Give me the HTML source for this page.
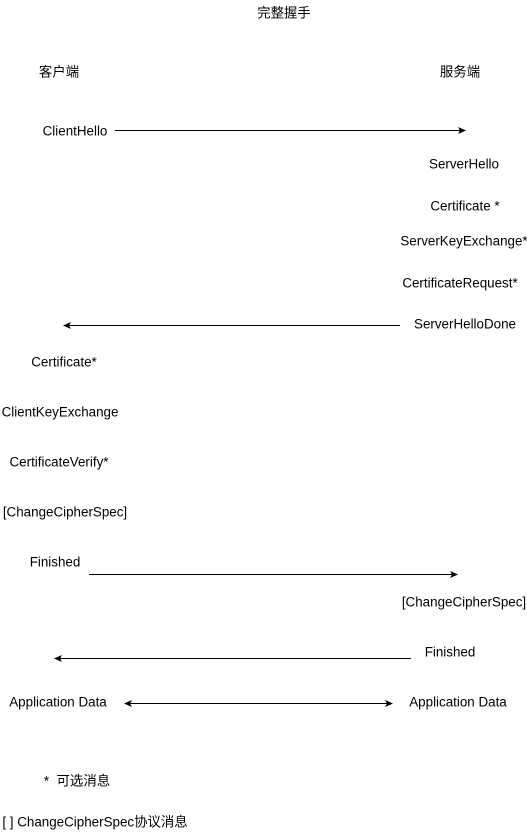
<!DOCTYPE html>
<html><head><meta charset="utf-8"><style>
body{margin:0;width:527px;height:840px;background:#fff;position:relative;overflow:hidden;font-family:"Liberation Sans","Noto Sans CJK SC",sans-serif;font-size:13.4px;color:#000}
.t{position:absolute;white-space:nowrap;transform:translate(-50%,-50%);line-height:1}
svg{position:absolute;left:0;top:0}
</style></head><body>
<svg width="527" height="840">
<defs><marker id="a" markerWidth="8" markerHeight="8" refX="7" refY="4" orient="auto" markerUnits="userSpaceOnUse"><path d="M0,0.5 L8,4 L0,7.5 L2,4 Z" fill="#000"/></marker>
<marker id="b" markerWidth="8" markerHeight="8" refX="1" refY="4" orient="auto" markerUnits="userSpaceOnUse"><path d="M8,0.5 L0,4 L8,7.5 L6,4 Z" fill="#000"/></marker></defs>
<g stroke="#000" stroke-width="1">
<line x1="115" y1="130.5" x2="465" y2="130.5" marker-end="url(#a)"/>
<line x1="400" y1="325.5" x2="64" y2="325.5" marker-end="url(#a)"/>
<line x1="89" y1="574.5" x2="457" y2="574.5" marker-end="url(#a)"/>
<line x1="411" y1="658.5" x2="55" y2="658.5" marker-end="url(#a)"/>
<line x1="125" y1="703.5" x2="392" y2="703.5" marker-start="url(#b)" marker-end="url(#a)"/>
</g></svg>
<div class="t" style="left:284px;top:13px">完整握手</div>
<div class="t" style="left:59px;top:72px">客户端</div>
<div class="t" style="left:460px;top:72px">服务端</div>
<div class="t" style="left:75px;top:131px">ClientHello</div>
<div class="t" style="left:464px;top:164px">ServerHello</div>
<div class="t" style="left:465px;top:206px">Certificate *</div>
<div class="t" style="left:464px;top:241px">ServerKeyExchange*</div>
<div class="t" style="left:460px;top:283px">CertificateRequest*</div>
<div class="t" style="left:465px;top:324px">ServerHelloDone</div>
<div class="t" style="left:64px;top:362px">Certificate*</div>
<div class="t" style="left:60px;top:412px">ClientKeyExchange</div>
<div class="t" style="left:59px;top:462px">CertificateVerify*</div>
<div class="t" style="left:65px;top:512px">[ChangeCipherSpec]</div>
<div class="t" style="left:55px;top:562px">Finished</div>
<div class="t" style="left:464px;top:602px">[ChangeCipherSpec]</div>
<div class="t" style="left:450px;top:652px">Finished</div>
<div class="t" style="left:58px;top:702px">Application Data</div>
<div class="t" style="left:458px;top:702px">Application Data</div>
<div class="t" style="left:77px;top:781px">*&nbsp; 可选消息</div>
<div class="t" style="left:95px;top:822px">[ ] ChangeCipherSpec协议消息</div>
</body></html>
